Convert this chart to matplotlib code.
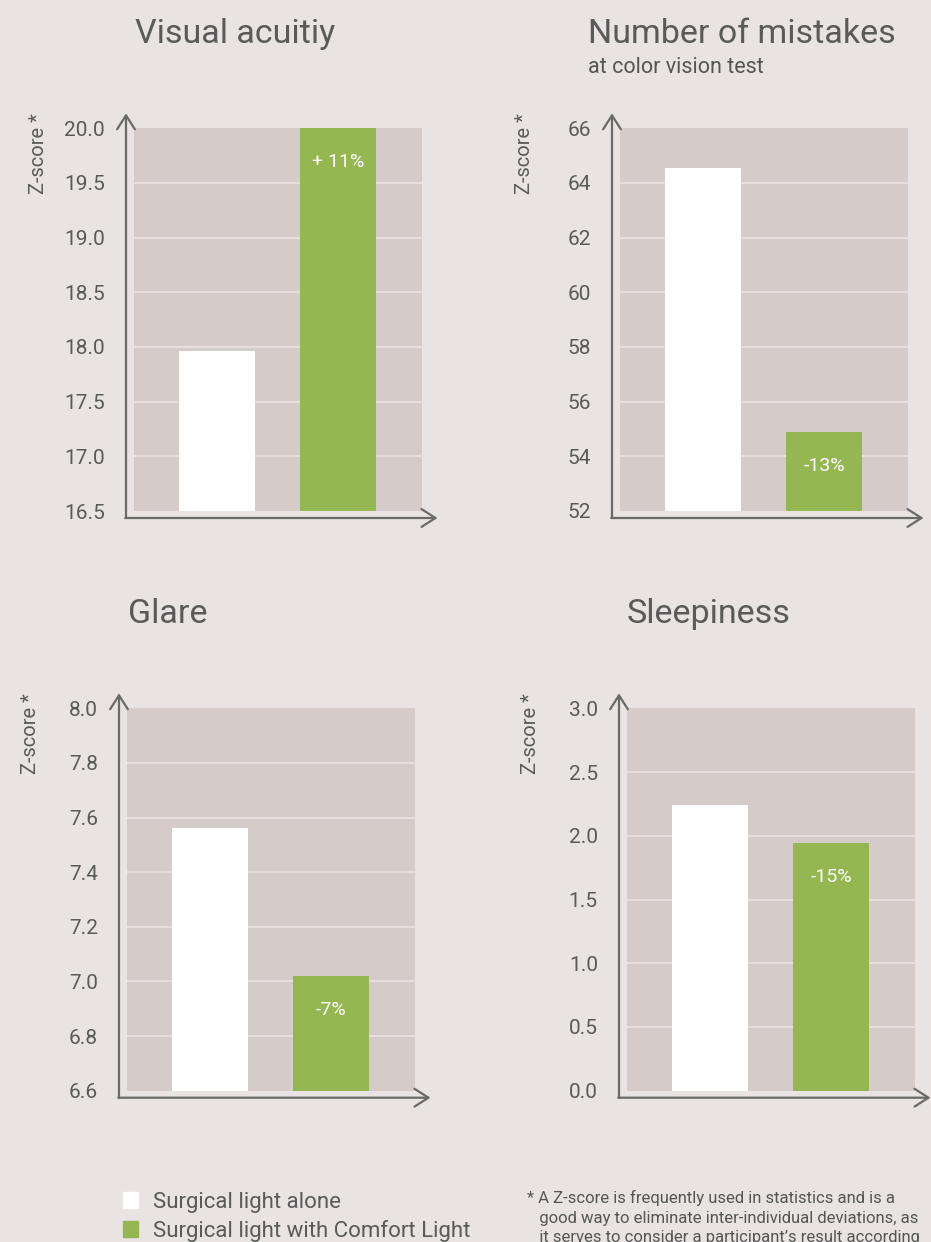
import matplotlib
matplotlib.use('Agg')
import matplotlib.pyplot as plt

# Data
titles = ['Visual acuitiy', 'Number of mistakes', 'Glare', 'Sleepiness']
subtitle = 'at color vision test'
alone = [17.96, 64.55, 7.56, 2.24]          # Surgical light alone
comfort = [20.0, 54.9, 7.02, 1.94]          # Surgical light with Comfort Light
changes = ['+ 11%', '-13%', '-7%', '-15%']
yticks = [
    [16.5, 17.0, 17.5, 18.0, 18.5, 19.0, 19.5, 20.0],
    [52, 54, 56, 58, 60, 62, 64, 66],
    [6.6, 6.8, 7.0, 7.2, 7.4, 7.6, 7.8, 8.0],
    [0.0, 0.5, 1.0, 1.5, 2.0, 2.5, 3.0],
]
ytick_labels = [
    ['16.5', '17.0', '17.5', '18.0', '18.5', '19.0', '19.5', '20.0'],
    ['52', '54', '56', '58', '60', '62', '64', '66'],
    ['6.6', '6.8', '7.0', '7.2', '7.4', '7.6', '7.8', '8.0'],
    ['0.0', '0.5', '1.0', '1.5', '2.0', '2.5', '3.0'],
]
legend_labels = ['Surgical light alone', 'Surgical light with Comfort Light']
footnote = ['* A Z-score is frequently used in statistics and is a',
            '   good way to eliminate inter-individual deviations, as',
            '   it serves to consider a participant\u2019s result according']

# colours
bg = '#e9e3e3'
panel = '#d5cbc9'
green = '#95b752'
txt = '#5a5a5a'
axcol = '#6a6a6a'
gridcol = '#ebe5e4'

W, H = 931, 1242
plt.rcParams['font.family'] = ['Roboto', 'DejaVu Sans']

fig = plt.figure(figsize=(W / 100, H / 100), dpi=100, facecolor=bg)

def fx(x):
    return x / W

def fy(y):
    return 1 - y / H

# panel boxes in pixels: left, top, right, bottom
boxes = [(134, 128.3, 421.5, 511), (620, 128.3, 907.5, 511),
         (127, 708.3, 414.5, 1090.7), (627, 708.3, 914.5, 1090.7)]
title_pos = [(135, 43), (588, 43), (128, 623), (627, 623)]

for i in range(4):
    l, t, r, b = boxes[i]
    ax = fig.add_axes([fx(l), fy(b), (r - l) / W, (b - t) / H])
    ax.set_facecolor(panel)
    for s in ax.spines.values():
        s.set_visible(False)
    lo, hi = yticks[i][0], yticks[i][-1]
    ax.set_ylim(lo, hi)
    ax.set_xlim(-0.683, 1.687)
    for g in yticks[i][1:-1]:
        ax.axhline(g, color=gridcol, lw=1.1, zorder=1)
    ax.bar([0, 1], [alone[i] - lo, comfort[i] - lo], bottom=lo, width=0.625,
           color=['white', green], zorder=2)
    ax.annotate(changes[i], xy=(1, comfort[i]), xytext=(0, -24.5),
                textcoords='offset points', ha='center', va='center',
                color='white', fontsize=14, zorder=3)
    ax.set_xticks([])
    ax.set_yticks(yticks[i])
    ax.set_yticklabels(ytick_labels[i])
    ax.tick_params(axis='y', length=0, pad=21, labelsize=15, labelcolor=txt)

    # axis lines with open arrow heads
    x0, y0 = l - 8, b + 7
    aprops = dict(arrowstyle='->,head_length=0.5,head_width=0.32', color=axcol,
                  lw=1.6, shrinkA=0, shrinkB=0, mutation_scale=20)
    ax.annotate('', xy=(fx(x0), fy(t - 15)), xytext=(fx(x0), fy(y0)),
                xycoords='figure fraction', arrowprops=aprops)
    ax.annotate('', xy=(fx(r + 16), fy(y0)), xytext=(fx(x0 - 0.8), fy(y0)),
                xycoords='figure fraction', arrowprops=aprops)

    fig.text(fx(l - 96), fy(t - 15), 'Z-score *', rotation=90, ha='center', va='top',
             color=txt, fontsize=14.5)

    tx, ty = title_pos[i]
    fig.text(fx(tx), fy(ty), titles[i], ha='left', va='baseline', color=txt, fontsize=24.5)

fig.text(fx(588), fy(73), subtitle, ha='left', va='baseline', color='#555555',
         fontsize=15.5)

# legend
for k, (lab, c) in enumerate(zip(legend_labels, ['white', green])):
    yb = 1208 + k * 28.5
    fig.patches.append(plt.Rectangle((fx(123), fy(yb)), 15 / W, 16 / H, color=c,
                                     transform=fig.transFigure, figure=fig))
    fig.text(fx(153), fy(yb), lab, ha='left', va='baseline', color=txt, fontsize=16)

# footnote (the last line runs off the bottom edge, as in the reference)
for k, line in enumerate(footnote):
    fig.text(fx(527), fy(1203 + k * 19.5), line, ha='left', va='baseline',
             color='#555555', fontsize=12)

fig.savefig('out.png', dpi=100, facecolor=bg)
